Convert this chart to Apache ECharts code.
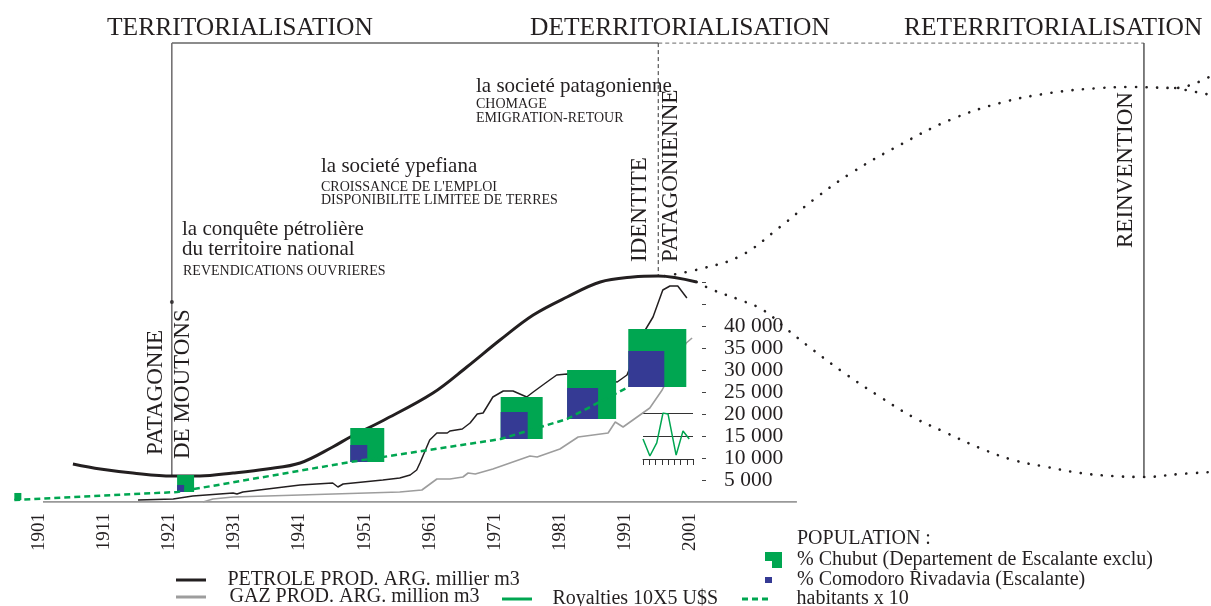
<!DOCTYPE html>
<html>
<head>
<meta charset="utf-8">
<script src="https://cdn.jsdelivr.net/npm/echarts@6/dist/echarts.min.js"></script>
<style>html,body{margin:0;padding:0;background:#fff}#c{width:1211px;height:606px}</style>
</head>
<body>
<div id="c"></div>
<script>
// ---------- DATA ----------
const decadeTicks = [1901, 1911, 1921, 1931, 1941, 1951, 1961, 1971, 1981, 1991, 2001];
const yTickValues = [5000, 10000, 15000, 20000, 25000, 30000, 35000, 40000, 45000, 50000];
const yLabelValues = [5000, 10000, 15000, 20000, 25000, 30000, 35000, 40000];

// conceptual trend curve (thick black)
const trendYears  = [1906.2, 1910.4, 1915.4, 1921.4, 1925.7, 1930.8, 1936.0, 1941.1, 1946.1, 1948.8, 1954.0, 1961.5, 1966.7, 1971.8, 1976.9, 1982.1, 1987.2, 1992.2, 1996.1, 2002.0];
const trendValues = [8636, 7500, 6591, 5909, 5909, 6591, 7500, 8864, 12500, 14773, 18636, 24773, 30682, 36818, 42500, 46591, 50000, 51136, 51364, 50000];

// PETROLE PROD. ARG. (milliers m3)
const petroleYears  = [1916.2, 1921.6, 1924.6, 1930.8, 1931.4, 1932.3, 1941.1, 1946.1, 1946.9, 1947.7, 1953.8, 1956.4, 1958.0, 1959.0, 1959.5, 1961.0, 1962.1, 1963.7, 1964.1, 1966.0, 1967.2, 1968.3, 1969.2, 1970.7, 1972.3, 1973.8, 1975.9, 1976.9, 1979.0, 1980.5, 1982.1, 1985.6, 1989.8, 1991.3, 1994.1, 1995.3, 1996.8, 1997.9, 1999.1, 2000.5];
const petroleValues = [455, 682, 1364, 2045, 1818, 2273, 3864, 4318, 3409, 4091, 5000, 5455, 6136, 7273, 8864, 14091, 15682, 15682, 16136, 16591, 17955, 20000, 20227, 23864, 25227, 25227, 23864, 25000, 27273, 28864, 29091, 28182, 27273, 28864, 39091, 42045, 48182, 49091, 49091, 46364];

// GAZ PROD. ARG. (millions m3)
const gazYears  = [1926.2, 1927.7, 1930.8, 1941.1, 1956.4, 1959.8, 1962.1, 1964.1, 1966.1, 1966.9, 1968.0, 1970.7, 1976.4, 1977.5, 1981.0, 1983.8, 1988.4, 1989.5, 1990.7, 1994.8, 1996.7, 2000.4, 2001.3];
const gazValues = [0, 682, 1136, 1591, 2273, 2727, 5227, 5227, 5682, 6591, 6364, 7500, 10455, 10227, 12045, 14773, 15682, 18182, 17045, 21364, 25455, 36136, 37273];

// population (habitants x 10) and square sides (in axis years)
const popYears     = [1897.2, 1922.2, 1948.8, 1971.9, 1982.1, 1991.5];
const habitants    = [455, 2273, 9091, 14318, 18864, 26136];
const chubutSide   = [1.08, 2.61, 5.22, 6.45, 7.53, 8.91];
const comodoroSide = [0, 1.08, 2.61, 4.15, 4.76, 5.53];

// royalties (inset)
const royaltyYears  = [1992.0, 1993.1, 1994.2, 1995.2, 1996.0, 1997.3, 1998.4, 1999.4];
const royaltyValues = [0.87, 0.13, 0.70, 2.0, 1.96, 0.17, 1.22, 0.87];

// scenario curves (dotted)
const upperYears  = [1997.1, 2002.5, 2008.7, 2014.8, 2019.9, 2025.5, 2033.2, 2040.9, 2048.6, 2056.3, 2063.9, 2069.2, 2075.5, 2081.0];
const upperValues = [51364, 52955, 55909, 62500, 68636, 74545, 81136, 86818, 90682, 92955, 94091, 94318, 94091, 96818];
const branchYears  = [2075.5, 2081.0];
const branchValues = [94091, 92500];
const lowerYears  = [2002.0, 2004.5, 2008.7, 2012.2, 2016.0, 2019.9, 2025.1, 2030.2, 2035.2, 2040.4, 2045.5, 2050.6, 2055.8, 2060.9, 2065.9, 2070.7, 2076.2, 2081.0];
const lowerValues = [50000, 48182, 45909, 43636, 39091, 34545, 28864, 23864, 19318, 15682, 12273, 9545, 7955, 6591, 5909, 5682, 6364, 6818];

// period frame
const periodBounds = [1921.4, 1996.1, 2070.7];
const frameTop = 104300;
const frameBottoms = [5909, 51364, 5682];
const patagonieDot = 45455;
const baselineYears = [1901.6, 2017.4];

// ---------- CHART ----------
const FONT = '"Liberation Serif", "Times New Roman", serif';
const INK = '#231f20';
const GREEN = '#00a651';
const BLUE = '#353a94';
const zip = (a, b) => a.map((v, i) => [v, b[i]]);
const fmt = v => String(v).replace(/\B(?=(\d{3})+(?!\d))/g, ' ');

function squares(sides) {
  return popYears.map((y, i) => [y, habitants[i], sides[i]]);
}
function squareRender(params, api) {
  const s = api.value(2);
  if (!s) return null;
  const p = api.coord([api.value(0), api.value(1)]);
  const w = api.size([s, 0])[0];
  return { type: 'rect', shape: { x: p[0], y: p[1] - w, width: w, height: w }, style: { fill: api.visual('color') } };
}

function txt(text, x, y, size, rot) {
  return {
    type: 'text', x: x, y: y, rotation: rot ? Math.PI / 2 : 0, silent: true,
    style: { text: text, fill: INK, fontSize: size, fontFamily: FONT,
      align: 'left', verticalAlign: 'middle', textAlign: 'left', textVerticalAlign: 'middle' }
  };
}

const SOLID_ICON = 'path://M0,0H30V3H0Z';
const DASH_ICON = 'path://M0,0H6V3H0Z M10,0H16V3H10Z M20,0H26V3H20Z';

function leg(name, icon, left, top, w, h, pad) {
  return {
    data: [{ name: name, icon: icon }], left: left, top: top, padding: 0, itemWidth: w, itemHeight: h,
    selectedMode: false, orient: 'horizontal',
    textStyle: { fontFamily: FONT, fontSize: 20, color: INK, padding: [0, 0, 0, pad] }
  };
}

const line = (name, data, color, width, extra) => Object.assign({
  name: name, type: 'line', data: data, symbol: 'none', showSymbol: false, silent: true,
  lineStyle: { color: color, width: width }, itemStyle: { color: color }
}, extra || {});

const dotStyle = { color: INK, width: 2.6, type: [0.1, 10.5], cap: 'round' };

const option = {
  animation: false,
  backgroundColor: '#fff',
  grid: [
    { left: 0, right: 0, top: 40, bottom: 104 },
    { left: 643, top: 413, width: 50, height: 46 }
  ],
  xAxis: [
    { type: 'value', gridIndex: 0, min: 1895, max: 2081,
      axisLine: { show: false }, axisTick: { show: false }, splitLine: { show: false },
      axisLabel: { customValues: decadeTicks, rotate: 90, margin: 11, fontSize: 19, fontFamily: FONT, color: INK,
        formatter: v => String(v) } },
    { type: 'value', gridIndex: 1, min: 1992, max: 2000, interval: 1,
      axisLine: { show: true, onZero: false, lineStyle: { color: '#333', width: 1 } },
      axisTick: { show: true, length: 6, lineStyle: { color: '#333' } },
      axisLabel: { show: false }, splitLine: { show: false } }
  ],
  yAxis: [
    { type: 'value', gridIndex: 0, min: 0, max: 105000, position: 'right', offset: -509,
      axisLine: { show: false }, splitLine: { show: false },
      axisTick: { show: true, customValues: yTickValues, length: 4, lineStyle: { color: '#444', width: 1 } },
      axisLabel: { customValues: yLabelValues, margin: 22, fontSize: 21.5, fontFamily: FONT, color: INK,
        formatter: fmt, verticalAlign: 'middle', padding: [0, 0, 13, 0] } },
    { type: 'value', gridIndex: 1, min: 0, max: 2, interval: 1,
      axisLine: { show: false }, axisTick: { show: false }, axisLabel: { show: false },
      splitLine: { show: true, lineStyle: { color: '#333', width: 1 } } }
  ],
  legend: [
    leg('PETROLE PROD. ARG. millier m3', SOLID_ICON, 176, 570, 31, 3, 16),
    leg('GAZ PROD. ARG. million m3', SOLID_ICON, 176, 587, 31, 3, 18),
    leg('Royalties 10X5 U$S', SOLID_ICON, 502, 589, 31, 3, 15),
    leg('habitants x 10', DASH_ICON, 742, 589, 27, 3, 23),
    leg('% Chubut (Departement de Escalante exclu)', 'path://M0,0H17V16H7V9H0Z', 765, 550, 17, 16, 10),
    leg('% Comodoro Rivadavia (Escalante)', 'rect', 765, 570, 7, 6, 20)
  ],
  graphic: { elements: [
    txt('TERRITORIALISATION', 107, 28, 25.5),
    txt('DETERRITORIALISATION', 530, 28, 25.5),
    txt('RETERRITORIALISATION', 904, 28, 25.5),
    txt('la societé patagonienne', 476, 86, 21),
    txt('CHOMAGE', 476, 104, 14),
    txt('EMIGRATION-RETOUR', 476, 118, 14),
    txt('la societé ypefiana', 321, 166, 21),
    txt("CROISSANCE DE L'EMPLOI", 321, 187, 14),
    txt('DISPONIBILITE LIMITEE DE TERRES', 321, 200, 14),
    txt('la conquête pétrolière', 182, 229, 21),
    txt('du territoire national', 182, 249, 21),
    txt('REVENDICATIONS OUVRIERES', 183, 271, 14),
    txt('PATAGONIE', 156, 455, 23, true),
    txt('DE MOUTONS', 183, 459, 23, true),
    txt('IDENTITE', 640, 262, 23, true),
    txt('PATAGONIENNE', 671, 262, 23, true),
    txt('REINVENTION', 1126, 248, 23, true),
    txt('POPULATION :', 797, 539, 20)
  ] },
  series: [
    // frame
    line('frameLeft', [[periodBounds[0], frameTop], [periodBounds[0], frameBottoms[0]]], INK, 1),
    line('frameTopSolid', [[periodBounds[0], frameTop], [periodBounds[1], frameTop]], '#666', 1.5),
    line('frameTopDashed', [[periodBounds[1], frameTop], [periodBounds[2], frameTop]], '#888', 1.3, { lineStyle: { color: '#888', width: 1.3, type: [4, 3] } }),
    line('frameMid', [[periodBounds[1], frameTop], [periodBounds[1], frameBottoms[1]]], '#333', 1, { lineStyle: { color: '#333', width: 1, type: [4, 3] } }),
    line('frameRight', [[periodBounds[2], frameTop], [periodBounds[2], frameBottoms[2]]], '#555', 1.5),
    { name: 'dot', type: 'scatter', data: [[periodBounds[0], patagonieDot]], symbolSize: 4, itemStyle: { color: INK }, silent: true },
    // baseline
    line('baseline', [[baselineYears[0], 0], [baselineYears[1], 0]], '#777', 1.3),
    // scenario curves
    line('upper', zip(upperYears, upperValues), INK, 2.6, { smooth: 0.4, lineStyle: dotStyle }),
    line('branch', zip(branchYears, branchValues), INK, 2.6, { lineStyle: dotStyle }),
    line('lower', zip(lowerYears, lowerValues), INK, 2.6, { smooth: 0.4, lineStyle: dotStyle }),
    // data
    line('GAZ PROD. ARG. million m3', zip(gazYears, gazValues), '#9d9d9d', 1.6),
    line('PETROLE PROD. ARG. millier m3', zip(petroleYears, petroleValues), INK, 1.5),
    line('trend', zip(trendYears, trendValues), INK, 3, { smooth: 0.35 }),
    { name: '% Chubut (Departement de Escalante exclu)', type: 'custom', data: squares(chubutSide),
      renderItem: squareRender, itemStyle: { color: GREEN }, silent: true, z: 5 },
    { name: '% Comodoro Rivadavia (Escalante)', type: 'custom', data: squares(comodoroSide),
      renderItem: squareRender, itemStyle: { color: BLUE }, silent: true, z: 6 },
    line('habitants x 10', zip(popYears, habitants), GREEN, 2.5, { z: 7, lineStyle: { color: GREEN, width: 2.5, type: [6, 4] } }),
    line('Royalties 10X5 U$S', zip(royaltyYears, royaltyValues), GREEN, 1.5, { xAxisIndex: 1, yAxisIndex: 1 })
  ]
};

const chart = echarts.init(document.getElementById('c'), null, { renderer: 'canvas' });
chart.setOption(option);
</script>
</body>
</html>
